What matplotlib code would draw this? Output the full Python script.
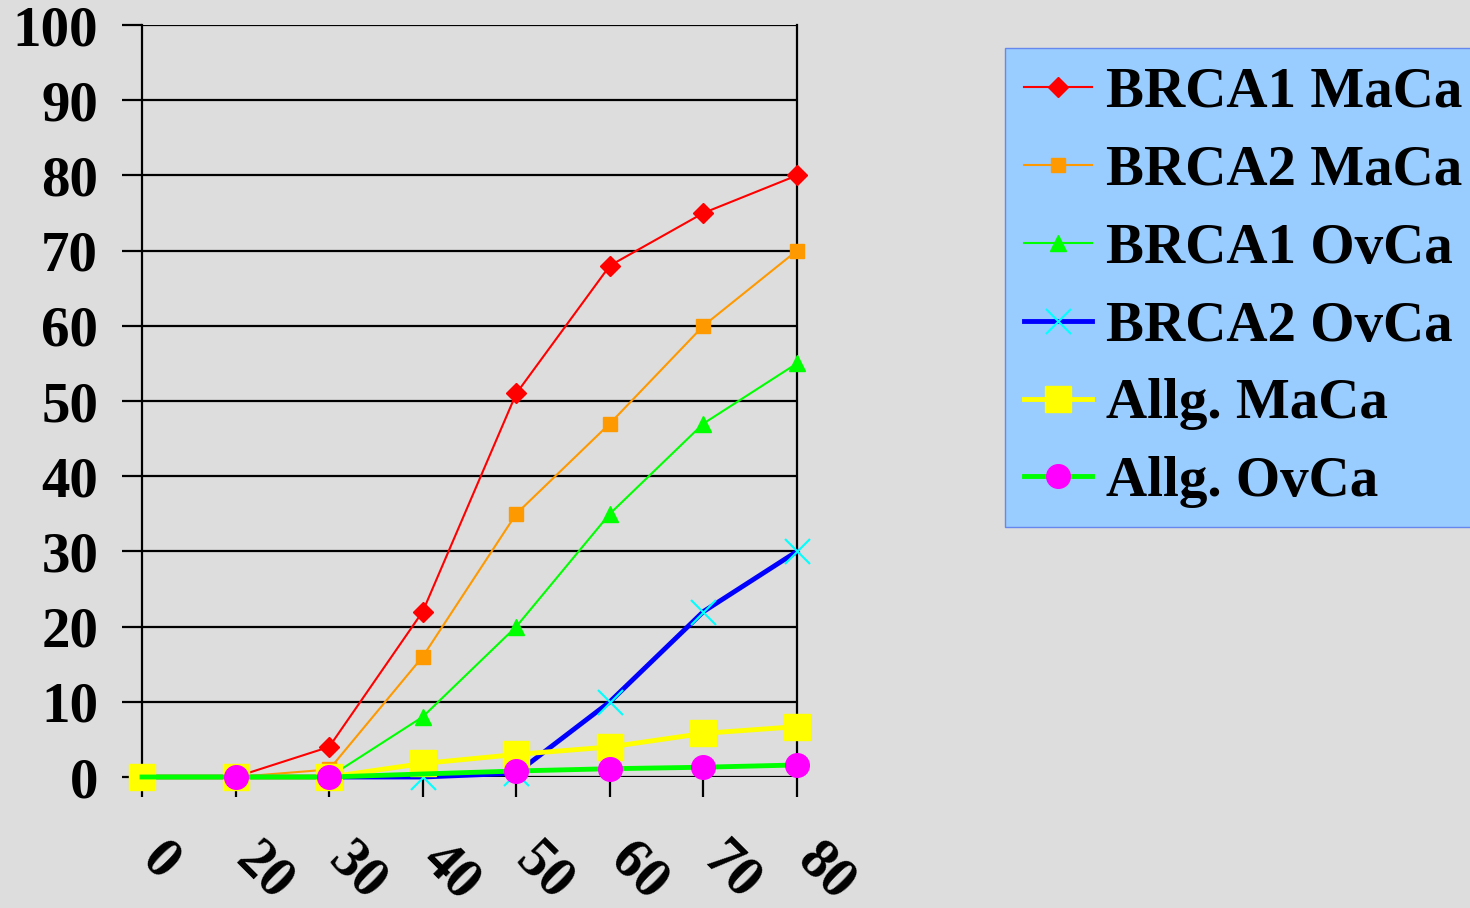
import numpy as np
import matplotlib.pyplot as plt
import matplotlib.transforms as mtransforms

# Age groups and cumulative risk (%)
ages = ['0', '20', '30', '40', '50', '60', '70', '80']
brca1_maca = [0, 0, 4, 22, 51, 68, 75, 80]
brca2_maca = [0, 0, 1, 16, 35, 47, 60, 70]
brca1_ovca = [0, 0, 0, 8, 20, 35, 47, 55]
brca2_ovca = [0, 0, 0, 0, 0.5, 10, 22, 30]
allg_maca = [0, 0, 0, 1.8, 3, 4, 5.8, 6.7]
allg_ovca = [0, 0, 0, 0.4, 0.8, 1.1, 1.3, 1.6]

bg = '#dddddd'
plt.rcParams['font.family'] = 'Liberation Serif'
plt.rcParams['font.weight'] = 'bold'
fs = 41

fig = plt.figure(figsize=(14.7, 9.08), dpi=100, facecolor=bg)
ax = fig.add_axes([142/1470, 1 - 777/908, (797 - 142)/1470, (777 - 25)/908])
ax.set_facecolor(bg)

x = np.arange(len(ages))

ax.plot(x, brca1_maca, color='#ff0000', lw=1.5, marker='D', ms=10,
        label='BRCA1 MaCa', clip_on=False, zorder=3)
ax.plot(x, brca2_maca, color='#ff9900', lw=1.5, marker='s', ms=10,
        label='BRCA2 MaCa', clip_on=False, zorder=3)
ax.plot(x, brca1_ovca, color='#00ff00', lw=1.5, marker='^', ms=11,
        label='BRCA1 OvCa', clip_on=False, zorder=3)
ax.plot(x, brca2_ovca, color='#0000ff', lw=3.5, marker='x', ms=18,
        mec='#00ffff', mew=1.5, label='BRCA2 OvCa', clip_on=False, zorder=3)
ax.plot(x, allg_maca, color='#ffff00', lw=3.5, marker='s', ms=19,
        label='Allg. MaCa', clip_on=False, zorder=3)
ax.plot(x, allg_ovca, color='#00ff00', lw=3.5, marker='o', ms=17,
        mfc='#ff00ff', mec='#ff00ff', markevery=[1, 2, 4, 5, 6, 7],
        label='Allg. OvCa', clip_on=False, zorder=3)

ax.set_xlim(0, len(ages) - 1)
ax.set_ylim(0, 100)
ax.set_yticks(np.arange(0, 101, 10))
ax.set_xticks(x)
ax.set_xticklabels(ages)

ax.yaxis.grid(True, color='black', lw=1.6)
ax.set_axisbelow(True)
for side in ['top', 'bottom']:
    ax.spines[side].set_visible(False)
for side in ['left', 'right']:
    ax.spines[side].set_linewidth(1.6)
    ax.spines[side].set_color('black')

ax.tick_params(axis='y', length=14.5, width=1.6, pad=17, labelsize=fs)
ax.tick_params(axis='x', length=14.5, width=1.6, pad=39, labelsize=fs)

shift = mtransforms.ScaledTranslation(8/100, 0, fig.dpi_scale_trans)
for lbl in ax.get_xticklabels():
    lbl.set_rotation(-45)
    lbl.set_rotation_mode('anchor')
    lbl.set_ha('left')
    lbl.set_va('center')
    lbl.set_transform(lbl.get_transform() + shift)

leg = fig.legend(loc='upper left', bbox_to_anchor=(1005/1470, 1 - 48/908),
                 borderaxespad=0, fontsize=fs, frameon=True, fancybox=False,
                 handlelength=1.2, handletextpad=0.25, labelspacing=0.455,
                 borderpad=0.33)
leg.get_frame().set_facecolor('#99ccff')
leg.get_frame().set_edgecolor('#6688ee')
leg.get_frame().set_alpha(1)
leg.get_frame().set_linewidth(1.0)

fig.savefig('out.png', dpi=100, facecolor=bg)
